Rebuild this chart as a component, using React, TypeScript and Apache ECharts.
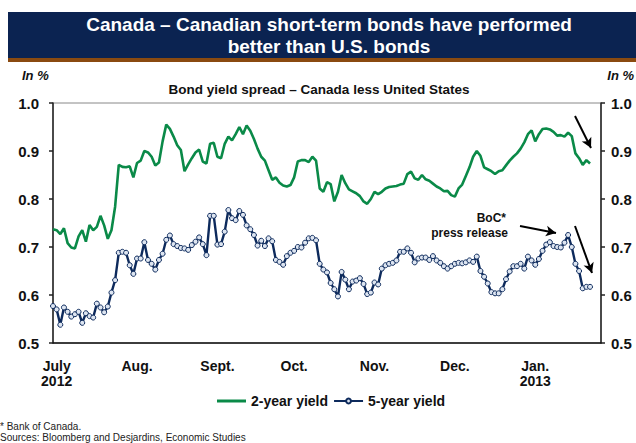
import React, { useEffect, useRef } from "react";
import * as echarts from "echarts";

// ---- Data (business days, July 2 2012 -> Jan 23 2013) ----
const twoYear: number[] = [
  0.737, 0.735, 0.727, 0.739, 0.708, 0.699, 0.697, 0.722, 0.735, 0.711,
  0.746, 0.735, 0.742, 0.765, 0.745, 0.717, 0.735, 0.784, 0.871, 0.867,
  0.866, 0.868, 0.845, 0.875, 0.880, 0.900, 0.897, 0.888, 0.870, 0.876,
  0.920, 0.955, 0.946, 0.930, 0.912, 0.902, 0.858, 0.872, 0.885, 0.897,
  0.903, 0.878, 0.874, 0.915, 0.917, 0.888, 0.885, 0.915, 0.930, 0.922,
  0.935, 0.950, 0.935, 0.953, 0.942, 0.925, 0.905, 0.888, 0.880, 0.860,
  0.840, 0.845, 0.834, 0.828, 0.826, 0.829, 0.845, 0.878, 0.881, 0.881,
  0.877, 0.888, 0.880, 0.822, 0.815, 0.835, 0.831, 0.795, 0.815, 0.850,
  0.833, 0.820, 0.816, 0.812, 0.806, 0.795, 0.790, 0.800, 0.815, 0.810,
  0.815, 0.822, 0.825, 0.826, 0.827, 0.830, 0.832, 0.852, 0.857, 0.843,
  0.840, 0.850, 0.841, 0.838, 0.832, 0.826, 0.822, 0.816, 0.817, 0.808,
  0.805, 0.822, 0.830, 0.848, 0.866, 0.888, 0.900, 0.890, 0.866, 0.862,
  0.858, 0.852, 0.858, 0.860, 0.870, 0.880, 0.888, 0.895, 0.905, 0.918,
  0.935, 0.943, 0.920, 0.935, 0.946, 0.947, 0.945, 0.940, 0.932, 0.933,
  0.930, 0.938, 0.931, 0.895, 0.885, 0.871, 0.881, 0.874,
];

const fiveYear: number[] = [
  0.577, 0.570, 0.538, 0.574, 0.565, 0.555, 0.560, 0.565, 0.542, 0.562,
  0.556, 0.553, 0.582, 0.574, 0.564, 0.576, 0.605, 0.631, 0.688, 0.690,
  0.688, 0.662, 0.644, 0.676, 0.676, 0.710, 0.673, 0.665, 0.653, 0.673,
  0.686, 0.715, 0.724, 0.706, 0.702, 0.698, 0.697, 0.694, 0.704, 0.711,
  0.720, 0.706, 0.683, 0.765, 0.765, 0.705, 0.706, 0.732, 0.777, 0.760,
  0.756, 0.775, 0.767, 0.745, 0.737, 0.725, 0.703, 0.713, 0.702, 0.718,
  0.712, 0.673, 0.669, 0.663, 0.681, 0.688, 0.692, 0.700, 0.699, 0.709,
  0.718, 0.719, 0.714, 0.665, 0.653, 0.647, 0.625, 0.612, 0.597, 0.648,
  0.632, 0.612, 0.628, 0.630, 0.635, 0.623, 0.602, 0.605, 0.626, 0.622,
  0.655, 0.662, 0.665, 0.667, 0.672, 0.690, 0.690, 0.697, 0.688, 0.668,
  0.676, 0.678, 0.678, 0.673, 0.681, 0.672, 0.667, 0.660, 0.655, 0.660,
  0.665, 0.667, 0.666, 0.668, 0.672, 0.669, 0.680, 0.650, 0.638, 0.624,
  0.606, 0.6035, 0.6035, 0.612, 0.633, 0.649, 0.660, 0.660, 0.665, 0.655,
  0.680, 0.672, 0.663, 0.675, 0.692, 0.705, 0.710, 0.702, 0.700, 0.699,
  0.709, 0.725, 0.700, 0.665, 0.650, 0.614, 0.617, 0.617,
];

const monthLabels: string[] = ["July\n2012", "Aug.", "Sept.", "Oct.", "Nov.", "Dec.", "Jan.\n2013"];
const monthIndex: number[] = [1, 23, 45, 66, 88, 110, 132];
const totalSlots = 151; // trading-day slots on the axis (data + empty tail)
const yTicks: number[] = [0.5, 0.6, 0.7, 0.8, 0.9, 1.0];

const FONT = '"Liberation Sans", Arial, Helvetica, sans-serif';
const GREEN = "#0a8a48";
const NAVY = "#0d2a5c";

export default function App() {
  const ref = useRef<HTMLDivElement>(null);
  useEffect(() => {
    if (!ref.current) return;
    const chart = echarts.init(ref.current, undefined, { renderer: "svg" });
    const categories = Array.from({ length: totalSlots }, (_, i) => String(i));
    const labelMap: Record<number, string> = {};
    monthIndex.forEach((idx, k) => (labelMap[idx] = monthLabels[k]));

    const yAxisCommon = {
      type: "value" as const,
      min: yTicks[0],
      max: yTicks[yTicks.length - 1],
      interval: 0.1,
      splitLine: { show: false },
      axisLine: { show: true, lineStyle: { color: "#222", width: 1.5 } },
      axisTick: { show: true, length: 4, lineStyle: { color: "#222", width: 1.5 } },
    };

    chart.setOption({
      animation: false,
      backgroundColor: "#fff",
      grid: {
        left: 53,
        right: 35,
        top: 103,
        bottom: 100,
        show: true,
        borderColor: "#888",
        borderWidth: 1,
      },
      legend: {
        bottom: 30,
        left: 212,
        itemWidth: 29,
        itemHeight: 6,
        itemGap: 5,
        textStyle: { fontFamily: FONT, fontWeight: "bold", fontSize: 14, color: "#111" },
        data: [
          { name: "2-year yield", icon: "path://M0,0H29V3H0Z" },
          { name: "5-year yield" },
        ],
      },
      xAxis: {
        type: "category",
        boundaryGap: false,
        data: categories,
        axisLine: { show: true, lineStyle: { color: "#111", width: 1.5 } },
        axisTick: { show: false },
        axisLabel: {
          interval: (idx: number) => labelMap[idx] !== undefined,
          formatter: (_v: string, idx: number) => labelMap[idx] ?? "",
          margin: 15,
          fontFamily: FONT,
          fontWeight: "bold",
          fontSize: 14,
          lineHeight: 15,
          color: "#111",
        },
      },
      yAxis: [
        {
          ...yAxisCommon,
          position: "left",
          axisLabel: {
            formatter: (v: number) => v.toFixed(1),
            margin: 14,
            fontFamily: FONT,
            fontWeight: "bold",
            fontSize: 15,
            color: "#111",
          },
        },
        {
          ...yAxisCommon,
          position: "right",
          axisLabel: {
            formatter: (v: number) => v.toFixed(1),
            margin: 10,
            fontFamily: FONT,
            fontWeight: "bold",
            fontSize: 15,
            color: "#111",
          },
        },
      ],
      series: [
        {
          name: "2-year yield",
          type: "line",
          data: twoYear,
          showSymbol: false,
          symbol: "none",
          lineStyle: { color: GREEN, width: 2.6 },
          itemStyle: { color: GREEN },
          markLine: {
            silent: true,
            animation: false,
            symbol: ["none", "arrow"],
            symbolSize: [8, 10],
            label: { show: false },
            lineStyle: { color: "#000", width: 2, type: "solid" },
            data: [
              [{ x: 520, y: 226 }, { x: 556, y: 233 }],
              [{ x: 575, y: 116 }, { x: 591, y: 148 }],
              [{ x: 575, y: 226 }, { x: 592, y: 273 }],
            ],
          },
        },
        {
          name: "5-year yield",
          type: "line",
          yAxisIndex: 0,
          data: fiveYear,
          symbol: "circle",
          symbolSize: 5,
          showSymbol: true,
          showAllSymbol: true,
          lineStyle: { color: NAVY, width: 2.4 },
          itemStyle: { color: "#dde5f1", borderColor: NAVY, borderWidth: 1 },
        },
      ],
      graphic: [
        { type: "rect", shape: { x: 8, y: 12, width: 628, height: 46 }, style: { fill: "#0b2351" } },
        { type: "rect", shape: { x: 8, y: 58, width: 628, height: 4 }, style: { fill: "#8a4a10" } },
        {
          type: "text",
          x: 329,
          y: 24,
          style: {
            text: "Canada – Canadian short-term bonds have performed",
            fill: "#fff",
            font: `bold 19px ${FONT}`,
            textAlign: "center",
            textVerticalAlign: "middle",
          },
        },
        {
          type: "text",
          x: 329,
          y: 46,
          style: {
            text: "better than U.S. bonds",
            fill: "#fff",
            font: `bold 19px ${FONT}`,
            textAlign: "center",
            textVerticalAlign: "middle",
          },
        },
        {
          type: "text",
          x: 22,
          y: 75,
          style: { text: "In %", fill: "#111", font: `italic bold 13px ${FONT}`, textVerticalAlign: "middle" },
        },
        {
          type: "text",
          x: 634,
          y: 75,
          style: {
            text: "In %",
            fill: "#111",
            font: `italic bold 13px ${FONT}`,
            textAlign: "right",
            textVerticalAlign: "middle",
          },
        },
        {
          type: "text",
          x: 319,
          y: 89,
          style: {
            text: "Bond yield spread – Canada less United States",
            fill: "#111",
            font: `bold 13.5px ${FONT}`,
            textAlign: "center",
            textVerticalAlign: "middle",
          },
        },
        {
          type: "text",
          x: 506,
          y: 218,
          style: { text: "BoC*", fill: "#111", font: `bold 12px ${FONT}`, textAlign: "right", textVerticalAlign: "middle" },
        },
        {
          type: "text",
          x: 508,
          y: 233,
          style: {
            text: "press release",
            fill: "#111",
            font: `bold 12px ${FONT}`,
            textAlign: "right",
            textVerticalAlign: "middle",
          },
        },
        {
          type: "text",
          x: 0,
          y: 426,
          style: { text: "* Bank of Canada.", fill: "#222", font: `10px ${FONT}`, textVerticalAlign: "middle" },
        },
        {
          type: "text",
          x: 0,
          y: 437,
          style: {
            text: "Sources: Bloomberg and Desjardins, Economic Studies",
            fill: "#222",
            font: `10px ${FONT}`,
            textVerticalAlign: "middle",
          },
        },
      ],
    });
    return () => chart.dispose();
  }, []);

  return (
    <div
      ref={ref}
      style={{ position: "fixed", left: 0, top: 0, width: 636, height: 443, background: "#fff" }}
    />
  );
}
